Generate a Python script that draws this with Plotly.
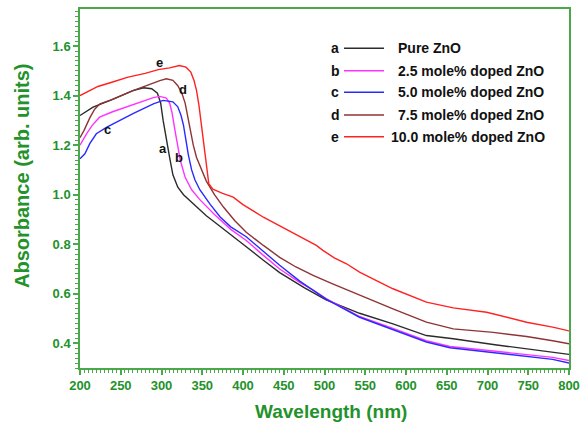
import plotly.graph_objects as go

# ---------------- data ----------------
names = ["Pure ZnO", "2.5 mole% doped ZnO", "5.0 mole% doped ZnO",
         "7.5 mole% doped ZnO", "10.0 mole% doped ZnO"]
letters = ["a", "b", "c", "d", "e"]
colors = ["#2b2b2b", "#ff33ff", "#2a2aff", "#8e3434", "#ff2222"]

wl_a = [200, 216, 237, 265, 278, 288, 295, 299, 302, 306, 310, 314, 320, 327, 339,
        355, 363, 380, 404, 425, 445, 475, 502, 543, 584, 625, 658, 707, 748, 780, 800]
ab_a = [1.32, 1.354, 1.381, 1.42, 1.432, 1.428, 1.41, 1.37, 1.30, 1.22, 1.15, 1.08, 1.03, 1.00, 0.963,
        0.915, 0.895, 0.85, 0.79, 0.735, 0.685, 0.625, 0.575, 0.521, 0.478, 0.431, 0.418, 0.395, 0.377, 0.365, 0.355]

wl_b = [200, 208, 215, 224, 240, 257, 275, 290, 298, 306, 310, 313, 316, 320, 323, 329, 337,
        347, 365, 385, 404, 425, 445, 470, 486, 502, 543, 584, 625, 654, 707, 748, 780, 800]
ab_b = [1.20, 1.246, 1.28, 1.313, 1.335, 1.354, 1.375, 1.392, 1.397, 1.39, 1.37, 1.33, 1.27, 1.20, 1.14, 1.07, 1.02,
        0.98, 0.92, 0.86, 0.815, 0.755, 0.70, 0.645, 0.615, 0.58, 0.508, 0.46, 0.41, 0.387, 0.368, 0.355, 0.343, 0.33]

wl_c = [200, 206, 212, 220, 233, 250, 265, 290, 302, 314, 320, 324, 327, 330, 333, 337, 341,
        347, 360, 372, 385, 404, 425, 445, 470, 486, 502, 543, 584, 625, 654, 707, 748, 780, 800]
ab_c = [1.145, 1.165, 1.206, 1.246, 1.273, 1.30, 1.327, 1.367, 1.381, 1.375, 1.355, 1.32, 1.28, 1.22, 1.16, 1.10, 1.06,
        1.02, 0.96, 0.91, 0.87, 0.83, 0.77, 0.715, 0.65, 0.615, 0.578, 0.505, 0.455, 0.405, 0.382, 0.362, 0.348, 0.335, 0.32]

wl_d = [200, 205, 212, 218, 224.5, 240, 265, 280, 298, 306, 314, 320, 325, 329, 332, 335, 339,
        343, 349, 355, 365, 376, 390, 404, 425, 445, 465, 486, 510, 539, 584, 625, 658, 707, 748, 780, 800]
ab_d = [1.23, 1.26, 1.31, 1.345, 1.367, 1.385, 1.42, 1.44, 1.461, 1.468, 1.462, 1.44, 1.41, 1.37, 1.32, 1.27, 1.20,
        1.15, 1.10, 1.055, 1.00, 0.95, 0.895, 0.848, 0.795, 0.747, 0.708, 0.674, 0.64, 0.60, 0.539, 0.485, 0.458, 0.444, 0.427, 0.41, 0.398]

wl_e = [200, 222, 240, 259, 280, 296, 310, 322, 330, 336, 340, 343, 346, 349, 352, 355, 358,
        363, 375, 388, 400, 425, 450, 474, 490, 498, 512, 527, 543, 568, 584, 625, 658, 699, 748, 780, 800]
ab_e = [1.40, 1.437, 1.455, 1.475, 1.49, 1.505, 1.512, 1.522, 1.515, 1.495, 1.46, 1.42, 1.36, 1.28, 1.20, 1.11, 1.045,
        1.022, 1.005, 0.99, 0.96, 0.909, 0.865, 0.822, 0.795, 0.775, 0.745, 0.721, 0.687, 0.646, 0.62, 0.566, 0.543, 0.525, 0.485, 0.465, 0.45]

series_x = [wl_a, wl_b, wl_c, wl_d, wl_e]
series_y = [ab_a, ab_b, ab_c, ab_d, ab_e]

# curve label positions (wavelength, absorbance)
label_wl = [302, 321, 233.5, 326, 298]
label_ab = [1.185, 1.152, 1.262, 1.424, 1.535]

x_ticks = list(range(200, 801, 50))
y_ticks = [0.4, 0.6, 0.8, 1.0, 1.2, 1.4, 1.6]

# ---------------- figure ----------------
W, H = 581, 426
L, R, T, B = 80, 12, 9, 58
PW, PH = W - L - R, H - T - B

def px(xp):
    return (xp - L) / PW

def py(yp):
    return (H - B - yp) / PH

GREEN_TXT = "#23922a"
GREEN_LINE = "#4aa84a"
FONT = "Liberation Sans, Arial, sans-serif"

fig = go.Figure()
for xs, ys, c, n in zip(series_x, series_y, colors, names):
    fig.add_trace(go.Scatter(x=xs, y=ys, mode="lines", name=n,
                             line=dict(color=c, width=1.4), showlegend=False))

annotations = []
for lt, lx, ly in zip(letters, label_wl, label_ab):
    annotations.append(dict(x=lx, y=ly, xref="x", yref="y", text="<b>%s</b>" % lt,
                            showarrow=False, font=dict(family=FONT, size=13, color="#111")))

# custom legend
row_y = [48.3, 70.7, 92.3, 115, 136.7]
shapes = []
for i, (lt, n, c) in enumerate(zip(letters, names, colors)):
    yy = py(row_y[i])
    annotations.append(dict(x=px(335), y=yy, xref="paper", yref="paper", text="<b>%s</b>" % lt,
                            showarrow=False, xanchor="center", yanchor="middle",
                            font=dict(family=FONT, size=14, color="#111")))
    shapes.append(dict(type="line", xref="paper", yref="paper", x0=px(344), x1=px(384),
                       y0=yy, y1=yy, line=dict(color=c, width=1.5)))
    tx = 389 if i == 4 else 396
    annotations.append(dict(x=px(tx), y=yy, xref="paper", yref="paper", text="<b>%s</b>" % n,
                            showarrow=False, xanchor="left", yanchor="middle",
                            font=dict(family=FONT, size=14, color="#111")))

# axis titles
annotations.append(dict(x=px(331), y=py(411), xref="paper", yref="paper",
                        text="<b>Wavelength (nm)</b>", showarrow=False,
                        xanchor="center", yanchor="middle",
                        font=dict(family=FONT, size=19, color=GREEN_TXT)))
annotations.append(dict(x=px(22), y=py(176), xref="paper", yref="paper",
                        text="<b>Absorbance (arb. units)</b>", showarrow=False, textangle=-90,
                        xanchor="center", yanchor="middle",
                        font=dict(family=FONT, size=20, color=GREEN_TXT)))

axis_common = dict(showgrid=False, zeroline=False, showline=True, linecolor=GREEN_LINE,
                   linewidth=1.5, mirror=True, ticks="outside", ticklen=5, tickwidth=1.5,
                   tickcolor=GREEN_LINE, automargin=False,
                   tickfont=dict(family=FONT, size=13, color=GREEN_TXT, weight="bold"))

fig.update_layout(
    width=W, height=H,
    margin=dict(l=L, r=R, t=T, b=B, autoexpand=False),
    paper_bgcolor="white", plot_bgcolor="white",
    xaxis=dict(range=[200, 800], tickvals=x_ticks, ticktext=[str(v) for v in x_ticks],
               minor=dict(ticks="outside", ticklen=3, tickwidth=1, tickcolor=GREEN_LINE, dtick=5),
               **axis_common),
    yaxis=dict(range=[0.3, 1.75], tickvals=y_ticks, ticktext=["%.1f" % v for v in y_ticks],
               minor=dict(ticks="outside", ticklen=3, tickwidth=1, tickcolor=GREEN_LINE, dtick=0.02,
                          tick0=0.3),
               **axis_common),
    annotations=annotations,
    shapes=shapes,
)

fig.write_html("out.html")
